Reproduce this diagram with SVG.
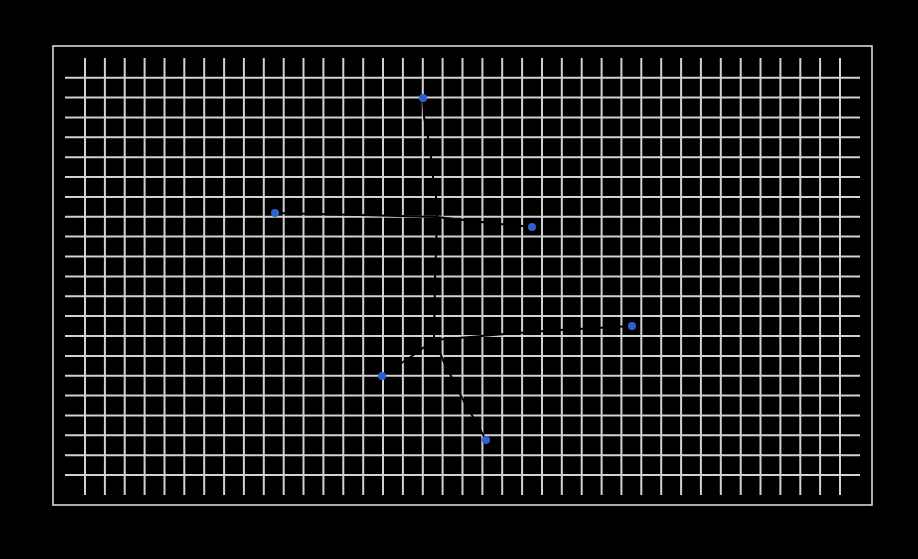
<svg xmlns="http://www.w3.org/2000/svg" width="918" height="559" viewBox="0 0 918 559">
<style>
.g{stroke:#d2d2d2;stroke-width:2;fill:none}
.e{stroke:#000;stroke-width:2;fill:none;stroke-linecap:round;stroke-linejoin:round}
.n{fill:#2f5fd0}
</style>
<rect x="0" y="0" width="918" height="559" fill="#000"/>
<rect x="53" y="46" width="819" height="459" fill="none" stroke="#d8d8d8" stroke-width="1.6"/>
<g id="grid">
<path class="g" d="M85 58V495M104.9 58V495M124.7 58V495M144.6 58V495M164.5 58V495M184.3 58V495M204.2 58V495M224.1 58V495M243.9 58V495M263.8 58V495M283.7 58V495M303.5 58V495M323.4 58V495M343.3 58V495M363.2 58V495M383 58V495M402.9 58V495M422.8 58V495M442.6 58V495M462.5 58V495M482.4 58V495M502.2 58V495M522.1 58V495M542 58V495M561.8 58V495M581.7 58V495M601.6 58V495M621.4 58V495M641.3 58V495M661.2 58V495M681.1 58V495M700.9 58V495M720.8 58V495M740.7 58V495M760.5 58V495M780.4 58V495M800.3 58V495M820.1 58V495M840 58V495"/>
<path class="g" d="M65 77.7H860M65 97.6H860M65 117.4H860M65 137.3H860M65 157.2H860M65 177H860M65 196.9H860M65 216.8H860M65 236.6H860M65 256.5H860M65 276.4H860M65 296.3H860M65 316.1H860M65 336H860M65 355.9H860M65 375.7H860M65 395.6H860M65 415.5H860M65 435.3H860M65 455.2H860M65 475H860"/>
</g>
<g id="connectors">
<path class="e" d="M423 98L424 117L428 137L431 157L433 177L436 197L437 217"/>
<path class="e" d="M275 213L360 215L437 217"/>
<path class="e" d="M437 217L490 223L532 227"/>
<path class="e" d="M437 217L435 280L434 340"/>
<path class="e" d="M434 340L412 356L382 376"/>
<path class="e" d="M434 340L470 337L505 334L560 330L632 326"/>
<path class="e" d="M434 340L443 360L452 378L462 398L473 417L486 440"/>
</g>
<g id="n1"><circle class="n" cx="423" cy="98" r="4"/></g>
<g id="n2"><circle class="n" cx="275" cy="213" r="4"/></g>
<g id="n3"><circle class="n" cx="532" cy="227" r="4"/></g>
<g id="n4"><circle class="n" cx="632" cy="326" r="4"/></g>
<g id="n5"><circle class="n" cx="382" cy="376" r="4"/></g>
<g id="n6"><circle class="n" cx="486" cy="440" r="4"/></g>
</svg>
